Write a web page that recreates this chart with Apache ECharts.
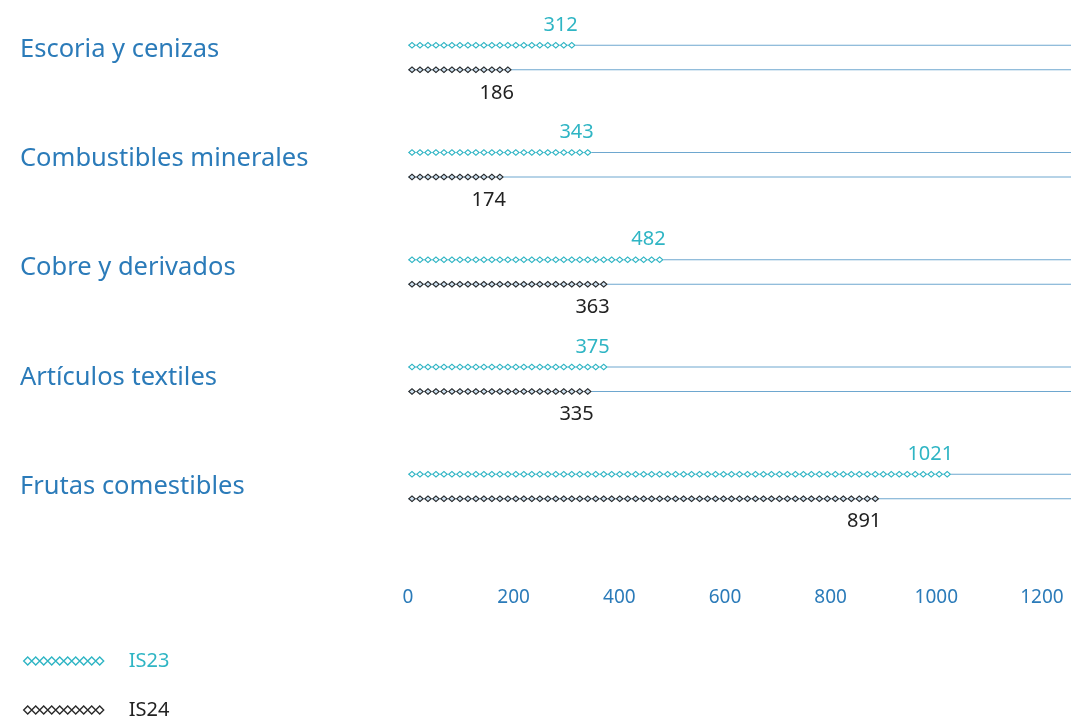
<!DOCTYPE html>
<html>
<head>
<meta charset="utf-8">
<script src="https://cdn.jsdelivr.net/npm/echarts@6/dist/echarts.min.js"></script>
<style>
  html, body { margin: 0; padding: 0; background: #fff; }
  #chart { width: 1071px; height: 722px; }
</style>
</head>
<body>
<div id="chart"></div>
<script>
// categorías y valores
const categories = ['Escoria y cenizas', 'Combustibles minerales', 'Cobre y derivados', 'Artículos textiles', 'Frutas comestibles']
const is23 = [312, 343, 482, 375, 1021]
const is24 = [186, 174, 363, 335, 891]
const xTicks = [0, 200, 400, 600, 800, 1000, 1200]

const teal = '#2fb5c4'
const dark = '#2b2b2b'
const blue = '#2b7bb9'
const track = '#6ea7cf'
const font = 'Noto Sans'

// desplazamiento vertical de cada etiqueta de categoría (como en el original)
const labelShift = [16, 12, 8, 2, 0]

// rombo hueco: contorno exterior + interior en sentido contrario
const ringPath = 'path://M0 35L40 0L80 35L40 70ZM17 35L40 55L63 35L40 15Z'

// fila de rombos para el icono de la leyenda
let diamondRow = ''
for (let i = 0; i < 10; i++) {
  const x = i * 8
  diamondRow += `M${x} 4L${x + 4} 0L${x + 8} 4L${x + 4} 8Z`
}

const chart = echarts.init(document.getElementById('chart'))

const legendBase = {
  left: 18,
  itemWidth: 80,
  itemHeight: 8,
  icon: 'path://' + diamondRow,
  textStyle: { fontSize: 20, fontFamily: font, padding: [0, 0, 0, 20] }
}

// opciones comunes de las barras de rombos
const pictorial = {
  type: 'pictorialBar',
  symbolRepeat: true,
  symbolSize: [8, 7],
  symbolMargin: 0,
  barWidth: 8,
  barGap: '206%',
  z: 5
}

const option = {
  animation: false,
  textStyle: { fontFamily: font },
  grid: { left: 408, right: 0, top: 4, height: 536 },
  legend: [
    Object.assign({}, legendBase, {
      top: 646,
      data: [{ name: 'IS23', textStyle: { color: teal }, itemStyle: { color: '#fff', borderColor: teal, borderWidth: 1.4 } }]
    }),
    Object.assign({}, legendBase, {
      top: 695,
      data: [{ name: 'IS24', textStyle: { color: '#222' }, itemStyle: { color: '#fff', borderColor: dark, borderWidth: 1.4 } }]
    })
  ],
  xAxis: {
    type: 'value',
    min: 0,
    max: 1255,
    interval: 200,
    axisLine: { show: false },
    axisTick: { show: false },
    splitLine: { show: false },
    axisLabel: {
      margin: 48,
      color: blue,
      fontSize: 19,
      showMaxLabel: false,
      formatter: v => (xTicks.includes(v) ? String(v) : '')
    }
  },
  yAxis: [
    {
      type: 'category',
      inverse: true,
      data: categories,
      axisLine: { show: false },
      axisTick: { show: false },
      axisLabel: {
        align: 'left',
        margin: 388,
        formatter: (v, i) => `{c${i}|${v}}`,
        rich: Object.fromEntries(labelShift.map((s, i) => [
          'c' + i,
          { color: blue, fontSize: 25.5, fontFamily: font, padding: [0, 0, s, 0] }
        ]))
      }
    },
    // eje oculto para superponer el contorno de los rombos
    { type: 'category', inverse: true, data: categories, show: false }
  ],
  series: [
    // líneas guía a todo lo ancho (fondo de barras de 1px)
    {
      type: 'bar',
      name: 'track23',
      data: is23,
      barWidth: 1,
      barGap: '2350%',
      itemStyle: { color: 'rgba(0,0,0,0)' },
      showBackground: true,
      backgroundStyle: { color: track },
      silent: true
    },
    {
      type: 'bar',
      name: 'track24',
      data: is24,
      barWidth: 1,
      barGap: '2350%',
      itemStyle: { color: 'rgba(0,0,0,0)' },
      showBackground: true,
      backgroundStyle: { color: track },
      silent: true
    },
    // relleno de los rombos
    Object.assign({}, pictorial, {
      name: 'fill23', data: is23, symbol: 'diamond', silent: true,
      itemStyle: { color: '#ffffff' }
    }),
    Object.assign({}, pictorial, {
      name: 'fill24', data: is24, symbol: 'diamond', silent: true,
      itemStyle: { color: '#cfe3f3' }
    }),
    // contorno de los rombos + etiquetas
    Object.assign({}, pictorial, {
      name: 'IS23', data: is23, symbol: ringPath, yAxisIndex: 1, z: 6,
      itemStyle: { color: teal },
      label: {
        show: true,
        position: ['100%', 0],
        align: 'right',
        verticalAlign: 'bottom',
        offset: [2, -6],
        color: teal,
        fontSize: 20
      }
    }),
    Object.assign({}, pictorial, {
      name: 'IS24', data: is24, symbol: ringPath, yAxisIndex: 1, z: 6,
      itemStyle: { color: dark },
      label: {
        show: true,
        position: ['100%', '100%'],
        align: 'right',
        verticalAlign: 'top',
        offset: [2, 9],
        color: '#222',
        fontSize: 20
      }
    })
  ]
}

chart.setOption(option)
</script>
</body>
</html>
